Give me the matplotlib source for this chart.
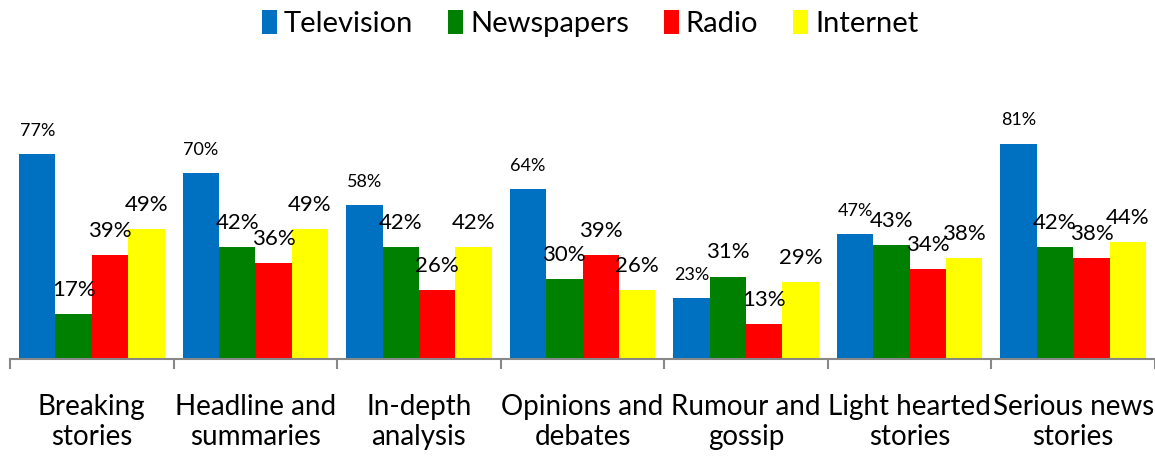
import matplotlib.pyplot as plt
import numpy as np

plt.rcParams['font.family'] = ['Lato', 'DejaVu Sans']

categories = ["Breaking\nstories", "Headline and\nsummaries", "In-depth\nanalysis",
              "Opinions and\ndebates", "Rumour and\ngossip", "Light hearted\nstories",
              "Serious news\nstories"]
television = [77, 70, 58, 64, 23, 47, 81]
newspapers = [17, 42, 42, 30, 31, 43, 42]
radio = [39, 36, 26, 39, 13, 34, 38]
internet = [49, 49, 42, 26, 29, 38, 44]

series = [("Television", television, "#0070C0"),
          ("Newspapers", newspapers, "#008000"),
          ("Radio", radio, "#FF0000"),
          ("Internet", internet, "#FFFF00")]

fig = plt.figure(figsize=(11.55, 4.59), dpi=100)
ax = fig.add_axes([10 / 1155, 100 / 459, 1 - 10 / 1155, 266 / 459])

x = np.arange(len(categories))
bar_width = 0.2225

for i, (name, values, color) in enumerate(series):
    pos = x + (i - 1.5) * bar_width
    bars = ax.bar(pos, values, width=bar_width, color=color, label=name)
    # TV labels are printed a bit smaller in the original
    size = 13 if i == 0 else 16
    for b, v in zip(bars, values):
        ax.annotate(f"{v}%", (b.get_x() + b.get_width() / 2, v),
                    xytext=(0, 13), textcoords="offset points",
                    ha="center", va="baseline", fontsize=size)

ax.set_xlim(-0.5, len(categories) - 0.5)
ax.set_ylim(0, 100)

for side in ["top", "right", "left"]:
    ax.spines[side].set_visible(False)
ax.spines["bottom"].set_color("#888888")
ax.spines["bottom"].set_linewidth(1.5)
ax.set_yticks([])

ax.set_xticks(x)
ax.set_xticklabels(categories, fontsize=20, linespacing=1.2)
ax.tick_params(axis="x", which="major", length=0, pad=25)
ax.set_xticks(np.arange(len(categories) + 1) - 0.5, minor=True)
ax.tick_params(axis="x", which="minor", length=7, width=1.5, color="#888888")

fig.legend(loc="upper center", bbox_to_anchor=(0.511, 1.035), ncol=4, frameon=False,
           fontsize=21, handlelength=0.5, handleheight=0.9, handletextpad=0.25,
           columnspacing=1.2)

fig.savefig("out.png", dpi=100)
